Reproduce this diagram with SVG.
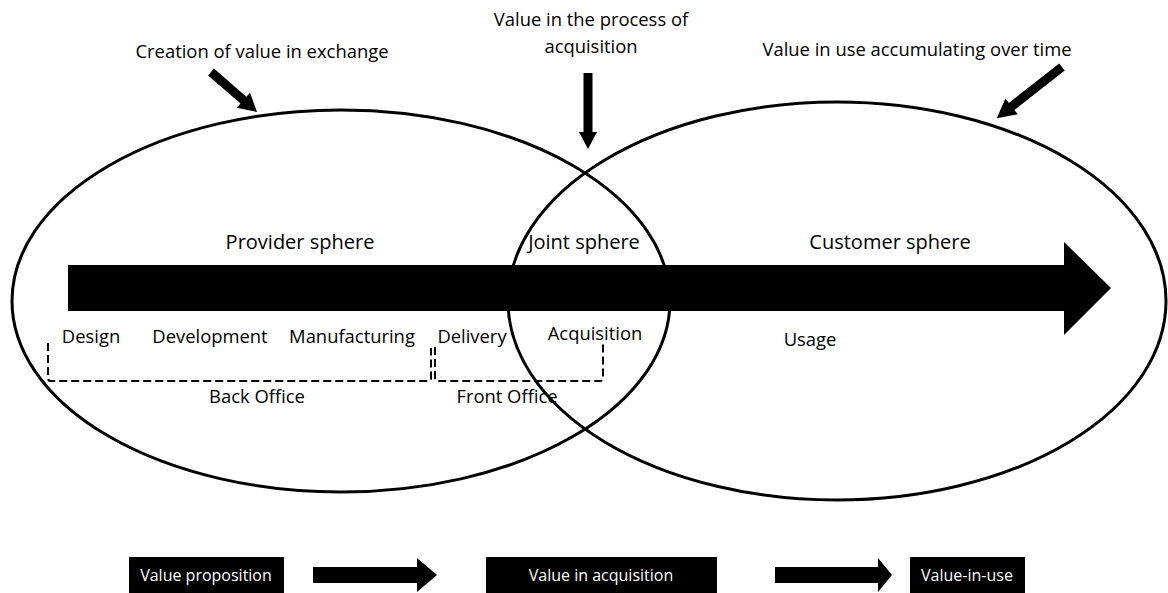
<svg xmlns="http://www.w3.org/2000/svg" width="1168" height="593" viewBox="0 0 1168 593">
<style>
text{font-family:"Open Sans","Liberation Sans",sans-serif;fill:#000;text-anchor:middle}
.lbl{font-size:18.4px}
.sph{font-size:20px}
.stg{font-size:18.4px}
.box{fill:#000}
.boxt{font-size:16px;fill:#fff}
.ell{fill:none;stroke:#000;stroke-width:3}
.dash{fill:none;stroke:#000;stroke-width:2;stroke-dasharray:8,4;stroke-linejoin:round}
</style>
<rect width="1168" height="593" fill="#fff"/>
<g id="provider">
<ellipse class="ell" cx="341" cy="301" rx="329" ry="191"/>
<text class="sph" x="300" y="249">Provider sphere</text>
</g>
<g id="customer">
<ellipse class="ell" cx="837" cy="301" rx="329" ry="199"/>
<text class="sph" x="890" y="249">Customer sphere</text>
</g>
<g id="joint">
<text class="sph" x="584" y="249">Joint sphere</text>
</g>
<g id="connectors">
<path d="M68,265 H1064 V242 L1111,288 L1064,335 V311 H68 Z" fill="#000"/>
<path transform="translate(211,72) rotate(41)" d="M0,-4.5 H43 V-10 L61,0 L43,10 V4.5 H0 Z" fill="#000"/>
<path transform="translate(588,73) rotate(90)" d="M0,-4.5 H59 V-9 L76,0 L59,9 V4.5 H0 Z" fill="#000"/>
<path transform="translate(1062,67) rotate(141.9)" d="M0,-4.5 H64 V-10 L83,0 L64,10 V4.5 H0 Z" fill="#000"/>
<path class="dash" d="M48,343 V378 Q48,381 51,381 H428 Q431,381 431,378 V348"/>
<path class="dash" d="M435,347 V378 Q435,381 438,381 H600 Q603,381 603,378 V343"/>
<path d="M313,567 H417 V558 L437,575 L417,592 V583 H313 Z" fill="#000"/>
<path d="M775,567 H878 V558 L892,575 L878,592 V583 H775 Z" fill="#000"/>
</g>
<g id="top-labels">
<text class="lbl" x="262" y="58">Creation of value in exchange</text>
<text class="lbl" x="591" y="26">Value in the process of</text>
<text class="lbl" x="591" y="53">acquisition</text>
<text class="lbl" x="917" y="56">Value in use accumulating over time</text>
</g>
<g id="stages">
<text class="stg" x="91" y="343">Design</text>
<text class="stg" x="210" y="343">Development</text>
<text class="stg" x="352" y="343">Manufacturing</text>
<text class="stg" x="472" y="343">Delivery</text>
<text class="stg" x="595" y="340">Acquisition</text>
<text class="stg" x="810" y="346">Usage</text>
<text class="stg" x="257" y="403">Back Office</text>
<text class="stg" x="507" y="403">Front Office</text>
</g>
<g id="value-proposition">
<rect class="box" x="129" y="557" width="155" height="36"/>
<text class="boxt" x="206" y="581">Value proposition</text>
</g>
<g id="value-in-acquisition">
<rect class="box" x="486" y="557" width="231" height="36"/>
<text class="boxt" x="601" y="581">Value in acquisition</text>
</g>
<g id="value-in-use">
<rect class="box" x="910" y="557" width="115" height="36"/>
<text class="boxt" x="967" y="581">Value-in-use</text>
</g>
</svg>
